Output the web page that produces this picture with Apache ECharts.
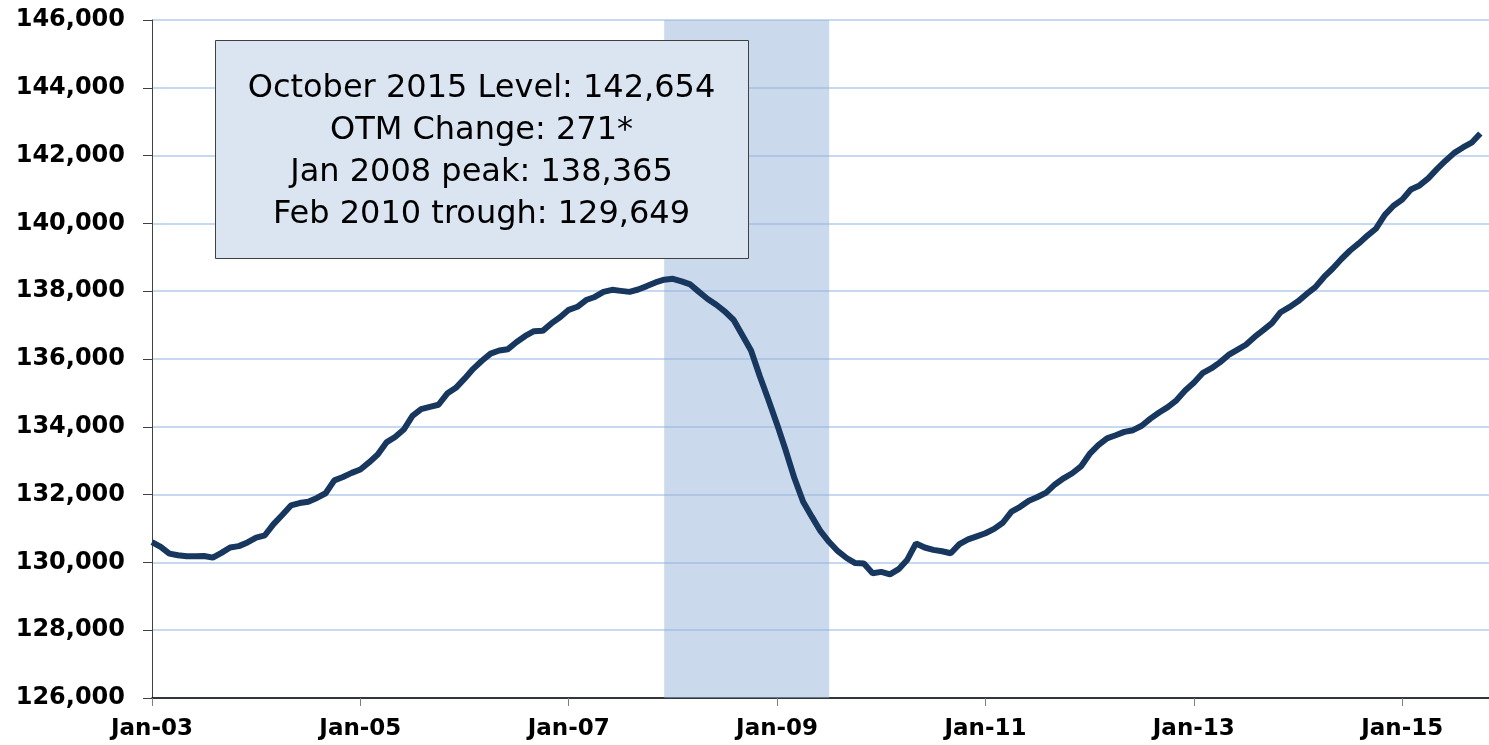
<!DOCTYPE html>
<html>
<head>
<meta charset="utf-8">
<title>Nonfarm payroll employment</title>
<script src="https://cdn.jsdelivr.net/npm/echarts@6/dist/echarts.min.js"></script>
<style>
  html, body { margin: 0; padding: 0; background: #fff; }
  #chart { width: 1489px; height: 745px; }
</style>
</head>
<body>
<div id="chart"></div>
<script>
'use strict';

// month names and two-digit years used for the category labels
var monthNames = ['Jan', 'Feb', 'Mar', 'Apr', 'May', 'Jun', 'Jul', 'Aug', 'Sep', 'Oct', 'Nov', 'Dec'];
var yearNames = ['03', '04', '05', '06', '07', '08', '09', '10', '11', '12', '13', '14', '15'];

// employment level, thousands, Jan 2003 .. Oct 2015
var employment2003 = [130600, 130460, 130260, 130210, 130180, 130180, 130190, 130140, 130280, 130440, 130480, 130590];
var employment2004 = [130730, 130800, 131130, 131400, 131680, 131750, 131790, 131900, 132040, 132420, 132520, 132640];
var employment2005 = [132740, 132950, 133180, 133540, 133700, 133920, 134320, 134520, 134590, 134650, 134980, 135150];
var employment2006 = [135420, 135710, 135950, 136160, 136250, 136290, 136500, 136680, 136820, 136830, 137050, 137230];
var employment2007 = [137450, 137540, 137740, 137830, 137980, 138040, 138010, 137980, 138050, 138150, 138260, 138340];
var employment2008 = [138365, 138290, 138200, 137980, 137770, 137600, 137400, 137150, 136700, 136250, 135500, 134800];
var employment2009 = [134070, 133300, 132480, 131790, 131350, 130920, 130600, 130330, 130130, 129980, 129970, 129680];
var employment2010 = [129720, 129649, 129800, 130080, 130560, 130440, 130370, 130330, 130270, 130540, 130680, 130770];
var employment2011 = [130860, 130990, 131170, 131500, 131640, 131820, 131930, 132060, 132300, 132480, 132630, 132830];
var employment2012 = [133200, 133460, 133660, 133750, 133850, 133900, 134030, 134240, 134420, 134580, 134780, 135070];
var employment2013 = [135300, 135580, 135720, 135900, 136120, 136270, 136420, 136650, 136850, 137060, 137380, 137530];
var employment2014 = [137700, 137920, 138120, 138420, 138670, 138950, 139200, 139410, 139640, 139850, 140250, 140520];
var employment2015 = [140700, 141000, 141120, 141330, 141600, 141850, 142080, 142240, 142380, 142654];

// recession shading (first and last month)
var recession = ['Dec-07', 'Jul-09'];

var yMin = 126000;
var yMax = 146000;
var yStep = 2000;

var boxLines = [
    'October 2015 Level: 142,654',
    'OTM Change: 271*',
    'Jan 2008 peak: 138,365',
    'Feb 2010 trough: 129,649'
];

// build category list; one spare month at the end so the axis runs to the edge
var categories = [];
for (var y = 0; y < yearNames.length; y++) {
    for (var m = 0; m < 12; m++) {
        categories.push(monthNames[m] + '-' + yearNames[y]);
        if (y === yearNames.length - 1 && m === 10) break;
    }
}
var values = [].concat(employment2003, employment2004, employment2005, employment2006,
    employment2007, employment2008, employment2009, employment2010, employment2011,
    employment2012, employment2013, employment2014, employment2015);

var chart = echarts.init(document.getElementById('chart'));

var option = {
    animation: false,
    backgroundColor: '#ffffff',
    grid: { left: 152, right: 0, top: 20, bottom: 47 },
    xAxis: {
        type: 'category',
        data: categories,
        boundaryGap: false,
        axisLine: { lineStyle: { color: '#000000', width: 1.5 } },
        axisTick: {
            show: true,
            length: 8,
            interval: function (i) { return i % 24 === 0; },
            lineStyle: { color: '#7f7f7f', width: 1 }
        },
        axisLabel: {
            interval: function (i) { return i % 24 === 0; },
            margin: 20,
            fontFamily: 'DejaVu Sans',
            fontWeight: 'bold',
            fontSize: 23,
            color: '#000000'
        },
        splitLine: { show: false }
    },
    yAxis: {
        type: 'value',
        min: yMin,
        max: yMax,
        interval: yStep,
        axisLine: { show: true, lineStyle: { color: '#404040', width: 1 } },
        axisTick: { show: true, length: 9, lineStyle: { color: '#404040' } },
        axisLabel: {
            margin: 27,
            fontFamily: 'DejaVu Sans',
            fontWeight: 'bold',
            fontSize: 24,
            color: '#000000',
            formatter: function (v) { return v.toLocaleString('en-US'); }
        },
        splitLine: { lineStyle: { color: '#c6d9f0', width: 2 } }
    },
    series: [{
        type: 'line',
        data: values,
        showSymbol: false,
        lineStyle: { color: '#17375e', width: 6 },
        z: 3,
        markArea: {
            silent: true,
            itemStyle: { color: 'rgba(150,180,215,0.5)' },
            data: [[{ xAxis: recession[0] }, { xAxis: recession[1] }]]
        }
    }],
    graphic: {
        elements: [{
            type: 'rect',
            left: 215,
            top: 40,
            z: 100,
            shape: { width: 533, height: 218 },
            style: { fill: '#dbe5f1', stroke: '#404040', lineWidth: 1 }
        }, {
            type: 'text',
            x: 481.5,
            y: 152,
            z: 101,
            style: {
                text: boxLines.join('\n'),
                align: 'center',
                verticalAlign: 'middle',
                fontFamily: 'DejaVu Sans',
                fontSize: 32,
                lineHeight: 42,
                fill: '#000000'
            }
        }]
    }
};

chart.setOption(option);
</script>
</body>
</html>
